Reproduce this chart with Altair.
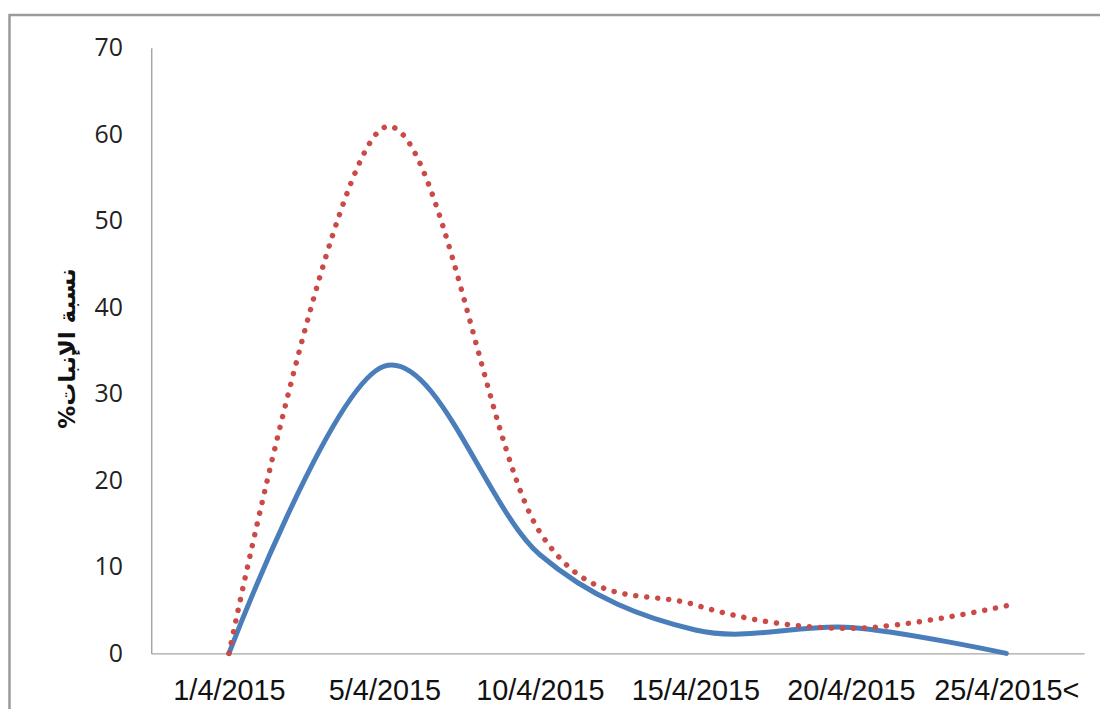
import altair as alt
import pandas as pd

# Category labels (x axis)
dates = ["1/4/2015", "5/4/2015", "10/4/2015", "15/4/2015", "20/4/2015", "25/4/2015<"]
# Series values (%)
series_blue = [0, 33.2, 11.4, 2.7, 3.0, 0]
series_red = [0, 60.8, 14.0, 5.6, 2.9, 5.5]
y_ticks = [0, 10, 20, 30, 40, 50, 60, 70]

df_blue = pd.DataFrame({"date": dates, "value": series_blue})
df_red = pd.DataFrame({"date": dates, "value": series_red})

x_enc = alt.X(
    "date:N",
    sort=dates,
    scale=alt.Scale(type="point", padding=0.5),
    axis=alt.Axis(
        title=None,
        labelAngle=0,
        labelFont="Liberation Sans",
        labelFontSize=29,
        labelColor="#111111",
        labelPadding=23,
        ticks=False,
        tickSize=0,
        domainColor="#a6a6a6",
        domainWidth=1.5,
        grid=False,
        labelOverlap=False,
    ),
)
y_enc = alt.Y(
    "value:Q",
    scale=alt.Scale(domain=[0, 70], nice=False, zero=True),
    axis=alt.Axis(
        title="%نسبة الإنبات",
        values=y_ticks,
        titleFont="DejaVu Sans",
        titleFontWeight="bold",
        titleFontSize=23,
        titleColor="#111111",
        titleX=-84,
        titleY=302,
        titleBaseline="middle",
        labelFont="Open Sans",
        labelFontSize=25,
        labelColor="#222222",
        labelPadding=29,
        ticks=False,
        tickSize=0,
        domainColor="#a6a6a6",
        domainWidth=1.5,
        grid=False,
    ),
)

border = alt.Chart(pd.DataFrame({"k": [0]})).mark_rect(
    filled=False, stroke="#9a9a9a", strokeWidth=2.5
).encode(
    x=alt.value(-142.5), x2=alt.value(1000), y=alt.value(-33), y2=alt.value(720)
)

blue_line = alt.Chart(df_blue).mark_line(
    interpolate="cardinal", color="#4a7ebb", strokeWidth=5, strokeCap="round"
).encode(x=x_enc, y=y_enc)

red_line = alt.Chart(df_red).mark_line(
    interpolate="cardinal", color="#c94a47", strokeWidth=5.5, strokeCap="round",
    strokeDash=[0.1, 11]
).encode(x=x_enc, y=y_enc)

chart = alt.layer(border, blue_line, red_line).properties(
    width=938,
    height=609,
    padding={"left": 144, "top": 38, "right": 16, "bottom": 54},
    autosize=alt.AutoSizeParams(type="none"),
    background="white",
).configure_view(stroke=None)

chart.save("out.html", embed_options={"renderer": "svg", "actions": False})
